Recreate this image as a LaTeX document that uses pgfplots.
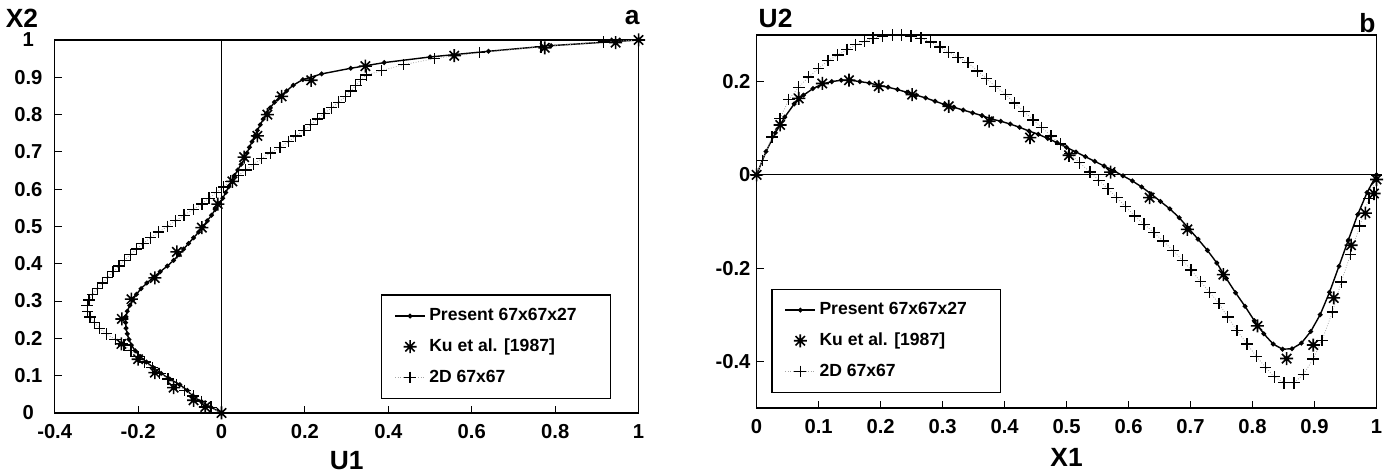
\documentclass[border=0pt]{standalone}
\usepackage{fontspec}
\setmainfont{Liberation Sans}
\usepackage{pgfplots}
\pgfplotsset{compat=1.18}

% eight-armed asterisk for the Ku et al. points
\pgfdeclareplotmark{ast8}{%
  \pgfpathmoveto{\pgfqpoint{-\pgfplotmarksize}{0pt}}%
  \pgfpathlineto{\pgfqpoint{\pgfplotmarksize}{0pt}}%
  \pgfpathmoveto{\pgfqpoint{0pt}{-\pgfplotmarksize}}%
  \pgfpathlineto{\pgfqpoint{0pt}{\pgfplotmarksize}}%
  \pgfpathmoveto{\pgfqpoint{-0.72\pgfplotmarksize}{-0.72\pgfplotmarksize}}%
  \pgfpathlineto{\pgfqpoint{0.72\pgfplotmarksize}{0.72\pgfplotmarksize}}%
  \pgfpathmoveto{\pgfqpoint{-0.72\pgfplotmarksize}{0.72\pgfplotmarksize}}%
  \pgfpathlineto{\pgfqpoint{0.72\pgfplotmarksize}{-0.72\pgfplotmarksize}}%
  \pgfusepathqstroke}

\tikzset{lab/.style={font=\fontsize{15}{17}\selectfont\bfseries, anchor=center}}

\pgfplotsset{
  panel/.style={
    scale only axis, height=7.46cm, clip=false,
    axis line style={line width=0.7pt},
    tick pos=left, tick align=inside, major tick length=0.14cm,
    tick style={black, line width=0.6pt},
    ticklabel style={font=\fontsize{11.5}{13}\selectfont\bfseries},
    xticklabel style={yshift=-0.1cm},
    /pgf/number format/assume math mode=true,
    legend cell align=left,
    legend style={draw=black, line width=0.7pt,
      font=\fontsize{10}{12}\selectfont\bfseries,
      inner xsep=0.25cm, inner ysep=0.2cm, row sep=0.17cm},
  },
  present/.style={black, line width=0.8pt, mark=*, mark size=0.95pt},
  ku/.style={black, only marks, mark=ast8, mark size=3.7pt, mark options={line width=0.9pt}},
  twod/.style={densely dotted, gray!70, line width=0.45pt, mark=+, mark size=3.3pt,
    mark options={solid, black, line width=0.75pt}},
}

\begin{document}
\begin{tikzpicture}
\useasboundingbox (-1.094,-1.26) rectangle (26.69,8.26);

% ---------------- panel a ----------------
\begin{axis}[panel, width=11.68cm,
  xmin=-0.4, xmax=1, ymin=0, ymax=1,
  xtick={-0.4,-0.2,0,0.2,0.4,0.6,0.8,1},
  ytick={0,0.1,0.2,0.3,0.4,0.5,0.6,0.7,0.8,0.9,1},
  yticklabel style={text width=0.8cm, align=center, inner xsep=0.12cm},
  legend style={at={(0.9525,0.0375)}, anchor=south east},
]
\addplot[present] coordinates {
(0,0) (-0.025,0.0152) (-0.048,0.0303) (-0.07,0.0455) (-0.082,0.0606) (-0.1,0.0758)
(-0.124,0.0909) (-0.145,0.1061) (-0.163,0.1212) (-0.18,0.1364) (-0.195,0.1515)
(-0.207,0.1667) (-0.216,0.1818) (-0.222,0.197) (-0.226,0.2121) (-0.229,0.2273)
(-0.23,0.2424) (-0.229,0.2576) (-0.226,0.2727) (-0.22,0.2879) (-0.213,0.303)
(-0.204,0.3182) (-0.193,0.3333) (-0.179,0.3485) (-0.163,0.3636) (-0.147,0.3788)
(-0.13,0.3939) (-0.115,0.4091) (-0.102,0.4242) (-0.091,0.4394) (-0.079,0.4545)
(-0.067,0.4697) (-0.055,0.4848) (-0.044,0.5) (-0.034,0.5152) (-0.024,0.5303)
(-0.015,0.5455) (-0.006,0.5606) (0.003,0.5758) (0.01,0.5909) (0.017,0.6061)
(0.024,0.6212) (0.031,0.6364) (0.039,0.6515) (0.047,0.6667) (0.055,0.6818)
(0.061,0.697) (0.067,0.7121) (0.073,0.7273) (0.079,0.7424) (0.086,0.7576)
(0.093,0.7727) (0.1,0.7879) (0.108,0.803) (0.117,0.8182) (0.127,0.8333)
(0.14,0.8485) (0.156,0.8636) (0.172,0.8788) (0.195,0.8939) (0.24,0.9091)
(0.31,0.9242) (0.39,0.9394) (0.5,0.9545) (0.64,0.9697) (0.79,0.9848) (1,1)
};
\addlegendentry{\makebox[3.3cm][l]{Present 67x67x27}}
\addplot[ku] coordinates {
(0,0) (-0.039,0.016) (-0.067,0.034) (-0.115,0.068) (-0.16,0.108) (-0.2,0.144)
(-0.24,0.185) (-0.239,0.252) (-0.216,0.305) (-0.16,0.362) (-0.107,0.432)
(-0.047,0.497) (-0.009,0.56) (0.026,0.621) (0.054,0.686) (0.086,0.743)
(0.11,0.8) (0.144,0.849) (0.215,0.892) (0.345,0.93) (0.558,0.958)
(0.775,0.979) (0.945,0.993) (1,1)
};
\addlegendentry{Ku et al. [1987]}
\addplot[twod] coordinates {
(0,0) (-0.025,0.0152) (-0.048,0.0303) (-0.068,0.0455) (-0.088,0.0606) (-0.108,0.0758)
(-0.128,0.0909) (-0.148,0.1061) (-0.166,0.1212) (-0.184,0.1364) (-0.2,0.1515)
(-0.217,0.1667) (-0.234,0.1818) (-0.255,0.197) (-0.276,0.2121) (-0.293,0.2273)
(-0.305,0.2424) (-0.315,0.2576) (-0.321,0.2727) (-0.322,0.2879) (-0.318,0.303)
(-0.309,0.3182) (-0.297,0.3333) (-0.285,0.3485) (-0.273,0.3636) (-0.26,0.3788)
(-0.246,0.3939) (-0.233,0.4091) (-0.219,0.4242) (-0.204,0.4394) (-0.188,0.4545)
(-0.17,0.4697) (-0.151,0.4848) (-0.13,0.5) (-0.11,0.5152) (-0.09,0.5303)
(-0.068,0.5455) (-0.047,0.5606) (-0.03,0.5758) (-0.012,0.5909) (0.005,0.6061)
(0.022,0.6212) (0.04,0.6364) (0.058,0.6515) (0.077,0.6667) (0.096,0.6818)
(0.117,0.697) (0.14,0.7121) (0.16,0.7273) (0.178,0.7424) (0.198,0.7576)
(0.214,0.7727) (0.23,0.7879) (0.246,0.803) (0.264,0.8182) (0.281,0.8333)
(0.297,0.8485) (0.31,0.8636) (0.322,0.8788) (0.334,0.8939) (0.348,0.906)
(0.384,0.918) (0.437,0.934) (0.51,0.95) (0.618,0.966) (0.766,0.982)
(0.916,0.995) (1,1)
};
\addlegendentry{2D 67x67}
\draw[line width=0.5pt] (axis cs:0,0) -- (axis cs:0,1);
\node[lab] at (rel axis cs:0.5,0) [yshift=-0.96cm] {U1};
\node[lab] at (rel axis cs:0,1) [xshift=-0.654cm, yshift=0.44cm] {X2};
\node[lab] at (rel axis cs:1,1) [xshift=-0.13cm, yshift=0.44cm] {a};
\end{axis}

% ---------------- panel b ----------------
\begin{axis}[panel, width=12.4cm, xshift=14.04cm, yshift=0.1cm,
  xmin=0, xmax=1, ymin=-0.5, ymax=0.3,
  xtick={0,0.1,0.2,0.3,0.4,0.5,0.6,0.7,0.8,0.9,1},
  ytick={-0.4,-0.2,0,0.2},
  legend style={at={(0.024,0.04)}, anchor=south west},
]
\addplot[present] coordinates {
(0,0) (0.0152,0.05) (0.0303,0.09) (0.0455,0.124) (0.0606,0.152) (0.0758,0.171)
(0.0909,0.185) (0.1061,0.195) (0.1212,0.2) (0.1364,0.203) (0.1515,0.203)
(0.1667,0.2) (0.1818,0.197) (0.197,0.192) (0.2121,0.188) (0.2273,0.183)
(0.2424,0.177) (0.2576,0.171) (0.2727,0.165) (0.2879,0.158) (0.303,0.151)
(0.3182,0.145) (0.3333,0.139) (0.3485,0.133) (0.3636,0.127) (0.3788,0.12)
(0.3939,0.115) (0.4091,0.109) (0.4242,0.102) (0.4394,0.094) (0.4545,0.087)
(0.4697,0.078) (0.4848,0.069) (0.5,0.059) (0.5152,0.049) (0.5303,0.039)
(0.5455,0.029) (0.5606,0.019) (0.5758,0.009) (0.5909,-0.002) (0.6061,-0.013)
(0.6212,-0.026) (0.6364,-0.041) (0.6515,-0.057) (0.6667,-0.073) (0.6818,-0.092)
(0.697,-0.115) (0.7121,-0.138) (0.7273,-0.162) (0.7424,-0.189) (0.7576,-0.222)
(0.7727,-0.253) (0.7879,-0.282) (0.803,-0.313) (0.8182,-0.341) (0.8333,-0.363)
(0.8485,-0.374) (0.8636,-0.373) (0.8788,-0.361) (0.8939,-0.336) (0.9091,-0.3)
(0.9242,-0.252) (0.9394,-0.196) (0.9545,-0.14) (0.9697,-0.085) (0.9848,-0.038)
(1,0)
};
\addlegendentry{\makebox[3.3cm][l]{Present 67x67x27}}
\addplot[ku] coordinates {
(0,0) (0.038,0.107) (0.068,0.164) (0.106,0.196) (0.149,0.203) (0.197,0.19)
(0.251,0.172) (0.31,0.147) (0.375,0.115) (0.441,0.08) (0.504,0.042)
(0.571,0.006) (0.634,-0.049) (0.695,-0.117) (0.753,-0.214) (0.808,-0.324)
(0.855,-0.394) (0.898,-0.365) (0.931,-0.264) (0.959,-0.151) (0.982,-0.082)
(0.996,-0.04) (1,-0.01)
};
\addlegendentry{Ku et al. [1987]}
\addplot[twod] coordinates {
(0,0) (0.009,0.031) (0.025,0.081) (0.038,0.121) (0.052,0.162) (0.068,0.188)
(0.084,0.21) (0.1,0.228) (0.115,0.245) (0.131,0.257) (0.146,0.269) (0.16,0.279)
(0.174,0.286) (0.188,0.293) (0.203,0.298) (0.219,0.3) (0.234,0.3) (0.249,0.298)
(0.265,0.293) (0.281,0.285) (0.296,0.274) (0.31,0.263) (0.325,0.252) (0.341,0.241)
(0.356,0.223) (0.371,0.206) (0.385,0.19) (0.402,0.172) (0.416,0.154) (0.431,0.136)
(0.446,0.118) (0.46,0.102) (0.475,0.083) (0.49,0.066) (0.505,0.046) (0.521,0.026)
(0.538,0.006) (0.552,-0.012) (0.567,-0.03) (0.581,-0.049) (0.595,-0.068)
(0.61,-0.088) (0.625,-0.106) (0.641,-0.124) (0.656,-0.142) (0.672,-0.163)
(0.687,-0.183) (0.701,-0.204) (0.716,-0.229) (0.731,-0.252) (0.746,-0.276)
(0.76,-0.305) (0.775,-0.334) (0.791,-0.363) (0.806,-0.389) (0.821,-0.413)
(0.835,-0.433) (0.851,-0.446) (0.867,-0.446) (0.882,-0.428) (0.898,-0.395)
(0.912,-0.355) (0.929,-0.294) (0.943,-0.23) (0.958,-0.171) (0.973,-0.11)
(0.988,-0.05) (1,0)
};
\addlegendentry{2D 67x67}
\draw[line width=0.5pt] (axis cs:0,0) -- (axis cs:1,0);
\node[lab] at (rel axis cs:0.5,0) [yshift=-0.98cm] {X1};
\node[lab] at (rel axis cs:0,1) [xshift=0.38cm, yshift=0.34cm] {U2};
\node[lab] at (rel axis cs:1,1) [xshift=-0.18cm, yshift=0.24cm] {b};
\end{axis}
\end{tikzpicture}
\end{document}
